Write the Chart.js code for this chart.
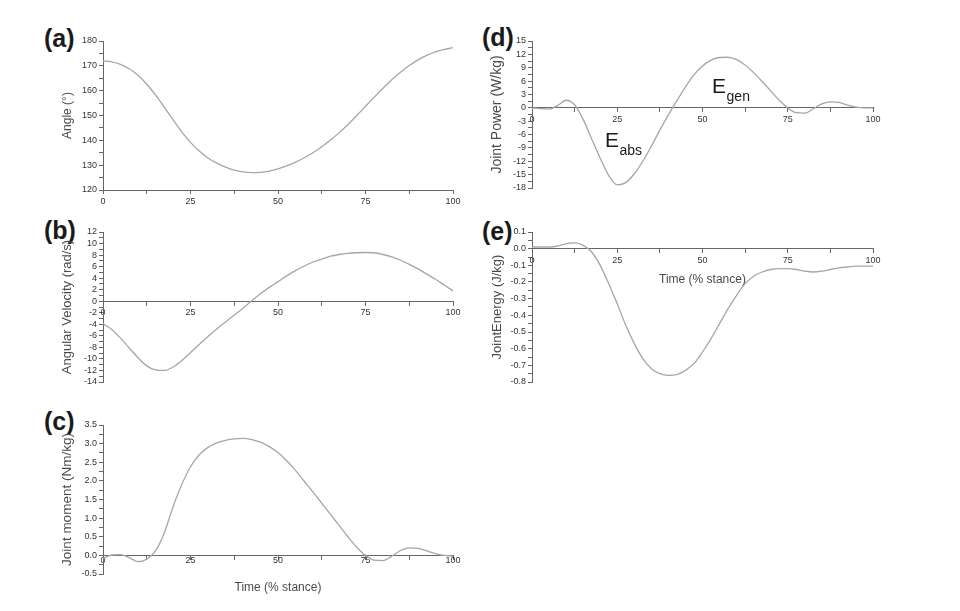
<!DOCTYPE html>
<html><head><meta charset="utf-8">
<script src="https://cdn.jsdelivr.net/npm/chart.js@4"></script>
<style>
html,body{margin:0;padding:0;background:#fff}
body{width:960px;height:611px;overflow:hidden;position:relative;font-family:"Liberation Sans",Arial,sans-serif}
canvas{position:absolute}
.lbl{position:absolute;font-weight:bold;font-size:25px;line-height:25px;color:#1a1a1a;white-space:nowrap}
</style></head><body>
<div class="lbl" style="left:44px;top:26px">(a)</div>
<div class="lbl" style="left:44px;top:218px">(b)</div>
<div class="lbl" style="left:44px;top:409px">(c)</div>
<div class="lbl" style="left:482px;top:25px">(d)</div>
<div class="lbl" style="left:482px;top:219px">(e)</div>
<canvas id="ca" width="411" height="179" style="left:56px;top:33px"></canvas>
<canvas id="cb" width="411" height="168" style="left:56px;top:224px"></canvas>
<canvas id="cc" width="412" height="187" style="left:55px;top:417px"></canvas>
<canvas id="cd" width="402" height="165" style="left:485px;top:33px"></canvas>
<canvas id="ce" width="401" height="168" style="left:486px;top:224px"></canvas>
<script>
// ---- data ----
const stance = [0,2.5,5,7.5,10,12.5,15,17.5,20,22.5,25,27.5,30,32.5,35,37.5,40,42.5,45,47.5,50,52.5,55,57.5,60,62.5,65,67.5,70,72.5,75,77.5,80,82.5,85,87.5,90,92.5,95,97.5,100];
const xTickLabels = [0,25,50,75,100];
const angle = [172,171.6,170.6,168.8,166.2,162.6,158.3,153.4,148.3,143.4,139.2,135.7,132.9,130.8,129.2,128.0,127.3,127.0,127.1,127.6,128.5,129.7,131.2,133.0,135.0,137.4,140.1,143.1,146.4,150.0,153.7,157.4,161.0,164.4,167.4,170.1,172.4,174.2,175.6,176.6,177.3];
const angularVelocity = [-3.9,-4.9,-6.4,-8.1,-9.8,-11.2,-11.9,-12.0,-11.4,-10.3,-8.9,-7.5,-6.1,-4.8,-3.6,-2.4,-1.2,0.1,1.3,2.4,3.4,4.4,5.3,6.1,6.8,7.3,7.8,8.1,8.3,8.4,8.45,8.4,8.1,7.7,7.1,6.4,5.6,4.7,3.8,2.8,1.8];
const jointMoment = [-0.08,0.01,0.02,-0.06,-0.17,-0.1,0.12,0.6,1.3,1.9,2.38,2.7,2.9,3.02,3.09,3.13,3.14,3.11,3.04,2.92,2.76,2.54,2.28,1.99,1.7,1.4,1.1,0.8,0.5,0.22,0.0,-0.13,-0.14,-0.02,0.13,0.2,0.19,0.12,0.05,0.0,-0.02];
const jointPower = [0,-0.2,-0.3,0.5,1.7,0.7,-2.6,-7,-11.3,-15.2,-17.3,-16.8,-14.8,-12,-8.6,-5,-1.6,1.6,4.7,7.4,9.4,10.7,11.3,11.35,10.8,9.6,7.9,5.9,3.8,1.7,0,-1.1,-1.2,-0.2,0.9,1.35,1.2,0.6,0.15,0,0];
const jointEnergy = [0.01,0.01,0.01,0.015,0.03,0.035,0.02,-0.02,-0.1,-0.21,-0.33,-0.46,-0.57,-0.66,-0.72,-0.75,-0.76,-0.755,-0.73,-0.69,-0.62,-0.54,-0.45,-0.36,-0.28,-0.21,-0.165,-0.14,-0.125,-0.12,-0.12,-0.125,-0.135,-0.14,-0.135,-0.125,-0.115,-0.11,-0.105,-0.105,-0.105];

// ---- styling ----
const LINE = '#a6a6a6', AX = '#666666', TXT = '#333333', TXT2 = '#4a4a4a';
const FAMILY = '"Liberation Sans", Arial, sans-serif';
Chart.defaults.font.family = FAMILY;

function isMajor(v, major) { const r = v / major; return Math.abs(r - Math.round(r)) < 1e-6; }

const energyLabelPlugin = {
  id: 'energyLabels',
  afterDatasetsDraw(chart, args, opts) {
    const {ctx, scales: {x, y}} = chart;
    ctx.save();
    ctx.fillStyle = '#1a1a1a';
    ctx.textAlign = 'left';
    ctx.textBaseline = 'alphabetic';
    for (const a of opts.items) {
      const px = x.getPixelForValue(a.x), py = y.getPixelForValue(a.y);
      ctx.font = '21px ' + FAMILY;
      ctx.fillText('E', px, py);
      const w = ctx.measureText('E').width;
      ctx.font = '14px ' + FAMILY;
      ctx.fillText(a.sub, px + w + 0.5, py + 8);
    }
    ctx.restore();
  }
};

function panel(id, values, o) {
  new Chart(document.getElementById(id), {
    type: 'line',
    data: { datasets: [{
      data: stance.map((t, i) => ({x: t, y: values[i]})),
      borderColor: LINE, borderWidth: 1.3, pointRadius: 0, cubicInterpolationMode: 'monotone', fill: false
    }]},
    options: {
      responsive: false, animation: false, devicePixelRatio: 1,
      layout: { padding: { top: 8, right: 14, bottom: o.padBottom, left: 0 } },
      plugins: { legend: { display: false }, tooltip: { enabled: false }, energyLabels: o.energy || {items: []} },
      scales: {
        x: {
          type: 'linear', position: o.xPos, min: 0, max: 100,
          ticks: { stepSize: 12.5, autoSkip: false, maxRotation: 0, padding: o.xTickPad, color: TXT, font: {size: 9},
                   callback: v => xTickLabels.includes(v) ? String(v) : '' },
          grid: { drawOnChartArea: false, drawTicks: true, tickLength: 4, tickColor: AX, color: AX },
          border: { color: AX, width: 1 },
          title: { display: !!o.xTitle, text: o.xTitle || '', color: TXT2, font: {size: 12},
                   padding: { top: o.xTitlePadTop || 4, bottom: 4 } },
          afterFit: o.xHeight ? (s => { s.height = o.xHeight; }) : undefined
        },
        y: {
          min: o.min, max: o.max,
          ticks: { stepSize: o.minor, autoSkip: false, padding: 2, color: TXT, font: {size: 9},
                   callback: v => isMajor(v, o.major) ? o.fmt(v) : '' },
          grid: { drawOnChartArea: false, drawTicks: true, tickLength: 4, tickColor: AX, color: AX },
          border: { color: AX, width: 1 },
          title: { display: true, text: o.yTitle, color: TXT2, font: {size: o.yTitleSize}, padding: {top: 4, bottom: 4} },
          afterFit: s => { s.width = o.yWidth; }
        }
      }
    },
    plugins: o.energy ? [energyLabelPlugin] : []
  });
}

const int = v => String(Math.round(v));
const one = v => (Math.abs(v) < 1e-9 ? 0 : v).toFixed(1);

panel('ca', angle, { xPos: 'bottom', xHeight: 22, xTickPad: 2, padBottom: 0, yWidth: 47,
  min: 120, max: 180, minor: 5, major: 10, fmt: int, yTitle: 'Angle (°)', yTitleSize: 12 });
panel('cb', angularVelocity, { xPos: {y: 0}, xTickPad: 2, padBottom: 10, yWidth: 47,
  min: -14, max: 12, minor: 1, major: 2, fmt: int, yTitle: 'Angular Velocity (rad/s)', yTitleSize: 13 });
panel('cc', jointMoment, { xPos: {y: 0}, xTickPad: -4, padBottom: 30, yWidth: 48, xTitle: 'Time (% stance)', xTitlePadTop: 18,
  min: -0.5, max: 3.5, minor: 0.25, major: 0.5, fmt: one, yTitle: 'Joint moment (Nm/kg)', yTitleSize: 13.5 });
panel('cd', jointPower, { xPos: {y: 0}, xTickPad: 2, padBottom: 10, yWidth: 47,
  min: -18, max: 15, minor: 1.5, major: 3, fmt: int, yTitle: 'Joint Power (W/kg)', yTitleSize: 14,
  energy: { items: [ {x: 21.4, y: -8.8, sub: 'abs'}, {x: 52.8, y: 3.3, sub: 'gen'} ] } });
panel('ce', jointEnergy, { xPos: {y: 0}, xTickPad: 2, padBottom: 10, yWidth: 46, xTitle: 'Time (% stance)', xTitlePadTop: 5,
  min: -0.8, max: 0.1, minor: 0.05, major: 0.1, fmt: one, yTitle: 'JointEnergy (J/kg)', yTitleSize: 13 });
</script>
</body></html>
